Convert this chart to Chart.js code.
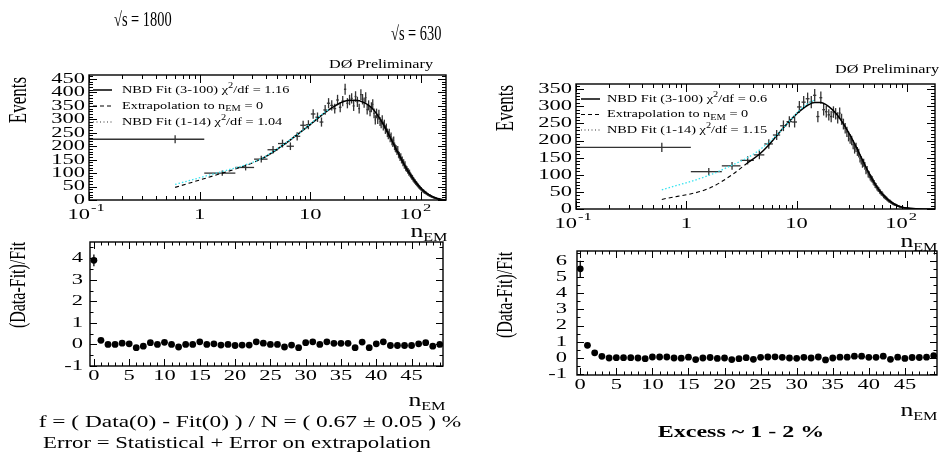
<!DOCTYPE html>
<html>
<head>
<meta charset="utf-8">
<script src="https://cdn.jsdelivr.net/npm/chart.js@4.4.0/dist/chart.umd.min.js"></script>
<style>
  body { margin: 0; background: #fff; }
  #page { position: relative; width: 941px; height: 454px; overflow: hidden; font-family: "Liberation Serif", "DejaVu Serif", serif; color: #000; }
  #page canvas { position: absolute; left: 0; top: 0; }
  .lbl { position: absolute; white-space: nowrap; line-height: 1; }
  .sub { font-size: 12px; position: relative; top: 4px; }
</style>
</head>
<body>
<div id="page">
  <canvas id="top1800" width="941" height="454"></canvas>
  <canvas id="top630" width="941" height="454"></canvas>
  <canvas id="ratio1800" width="941" height="454"></canvas>
  <canvas id="ratio630" width="941" height="454"></canvas>

  <div class="lbl" style="left:114px;top:9px;font-size:20px;transform:scaleX(0.72);transform-origin:0 0">√s = 1800</div>
  <div class="lbl" style="left:391px;top:23px;font-size:20px;transform:scaleX(0.72);transform-origin:0 0">√s = 630</div>

  <div class="lbl" style="right:508px;top:58px;font-size:12px;transform:scaleX(1.35);transform-origin:100% 0">DØ Preliminary</div>
  <div class="lbl" style="right:2px;top:63px;font-size:12px;transform:scaleX(1.35);transform-origin:100% 0">DØ Preliminary</div>

  <div class="lbl" style="left:18px;top:100px;font-size:17px;transform:translate(-50%,-50%) rotate(-90deg) scaleY(1.45)">Events</div>
  <div class="lbl" style="left:505px;top:108px;font-size:17px;transform:translate(-50%,-50%) rotate(-90deg) scaleY(1.45)">Events</div>
  <div class="lbl" style="left:18px;top:285px;font-size:16px;transform:translate(-50%,-50%) rotate(-90deg) scaleY(1.45)">(Data-Fit)/Fit</div>
  <div class="lbl" style="left:505px;top:295px;font-size:16px;transform:translate(-50%,-50%) rotate(-90deg) scaleY(1.45)">(Data-Fit)/Fit</div>

  <div class="lbl" style="right:494px;top:221px;font-size:19px;transform:scaleX(1.35);transform-origin:100% 0">n<span class="sub">EM</span></div>
  <div class="lbl" style="right:4px;top:231px;font-size:19px;transform:scaleX(1.35);transform-origin:100% 0">n<span class="sub">EM</span></div>
  <div class="lbl" style="right:496px;top:390px;font-size:19px;transform:scaleX(1.35);transform-origin:100% 0">n<span class="sub">EM</span></div>
  <div class="lbl" style="right:4px;top:400px;font-size:19px;transform:scaleX(1.35);transform-origin:100% 0">n<span class="sub">EM</span></div>

  <div class="lbl" style="left:250px;top:414px;font-size:16px;transform:translateX(-50%) scaleX(1.46)">f = ( Data(0) - Fit(0) ) / N = ( 0.67 ± 0.05 ) %</div>
  <div class="lbl" style="left:237px;top:435px;font-size:16px;transform:translateX(-50%) scaleX(1.42)">Error = Statistical + Error on extrapolation</div>
  <div class="lbl" style="left:741px;top:424px;font-size:16px;font-weight:bold;transform:translateX(-50%) scaleX(1.5)">Excess ~ 1 - 2 %</div>
</div>

<script>
// histogram bins are drawn at n + binOffset on the log axis
const binOffset = 0.6;

// ---- sqrt(s) = 1800 ----
const counts1800 = [
    226, 100, 121, 152, 187, 210, 200, 237, 278, 280,
    320, 308, 290, 335, 360, 352, 340, 372, 345, 368,
    412, 360, 372, 378, 350, 385, 365, 340, 392, 375,
    362, 381, 336, 352, 330, 345, 356, 322, 298, 322,
    300, 318, 292, 284, 298, 275, 282, 262, 268, 250,
    242, 249, 230, 236, 218, 212, 221, 200, 193, 190,
    181, 187, 170, 166, 158, 161, 148, 150, 137, 140,
    128, 133, 120, 117, 115, 109, 108, 100, 103, 95,
    92, 88, 85, 84, 78, 77, 72, 70, 68, 64,
    63, 60, 57, 55, 53, 50, 48, 46, 44, 42,
    42, 38, 37, 35, 34, 33, 30, 30, 28, 27,
    27, 25, 24, 22, 21, 21, 19, 18, 18, 16,
    17, 15, 14, 13, 13, 12, 11, 11, 10, 9,
    10, 8, 8, 7, 7, 6, 6, 5, 6, 5,
    5, 4, 4, 3, 4, 3, 3, 2, 3, 2,
    2, 2, 1, 2, 1, 1, 1, 1, 0, 1, 1
];
const fitN1800 = [3, 4, 5, 6, 7, 8, 10, 12, 15, 18, 21, 25, 30, 35, 40, 45, 50, 55, 60, 65, 70, 80, 90, 100, 110, 120, 130, 140, 150, 160, 167];
const fitVals1800 = [152, 178, 203, 224, 243, 260, 290, 315, 343, 361, 370, 371, 362, 344, 315, 281, 246, 213, 183, 156, 131, 92, 63, 42, 27, 17, 10, 5.5, 2.8, 1.3, 0.7];
const extrapN1800 = [0, 1, 2, 3];
const extrapVals1800 = [47, 100, 128, 152];
const lowFitN1800 = [0, 1, 2, 3, 4, 5, 6, 8, 10, 12, 14];
const lowFitVals1800 = [58, 106, 131, 153, 180, 204, 225, 261, 292, 317, 337];
const ratio1800 = [
    3.9, 0.19, 0.0, 0.0, 0.06, 0.03, -0.15, -0.08, 0.08, 0.0,
    0.1, 0.0, -0.12, 0.0, 0.0, 0.12, 0.0, 0.03, -0.03, 0.0,
    -0.05, -0.03, -0.03, 0.12, 0.06, 0.0, 0.0, -0.12, -0.03, -0.15,
    0.08, 0.12, 0.0, 0.12, 0.05, 0.05, 0.05, -0.15, 0.11, -0.15,
    0.03, 0.12, -0.05, -0.05, -0.05, -0.05, 0.03, 0.08, -0.08, 0.0
];
const ratioErr1800 = [0.27];

// ---- sqrt(s) = 630 ----
const counts630 = [
    180, 109, 126, 142, 158, 190, 216, 243, 255, 254,
    298, 312, 322, 312, 332, 270, 325, 290, 284, 275,
    270, 283, 278, 266, 280, 262, 248, 236, 225, 212,
    205, 200, 188, 175, 180, 168, 163, 148, 142, 132,
    135, 126, 112, 115, 102, 100, 93, 89, 86, 80,
    76, 70, 68, 62, 59, 57, 52, 50, 46, 45,
    42, 38, 36, 34, 32, 30, 28, 26, 24, 23,
    22, 20, 19, 17, 16, 15, 14, 13, 12, 12,
    11, 10, 9, 9, 8, 7, 7, 6, 6, 5,
    5, 5, 4, 4, 4, 3, 3, 3, 3, 2,
    3, 2, 2, 2, 2, 1, 1, 1, 1, 1,
    1, 1, 1, 0, 1, 0, 0, 1, 0, 0
];
const fitN630 = [3, 4, 5, 6, 7, 8, 10, 12, 14, 16, 18, 20, 22, 25, 28, 31, 35, 40, 45, 50, 55, 60, 65, 70, 80, 90, 100, 120, 150, 179];
const fitVals630 = [135, 160, 187, 214, 237, 256, 285, 303, 311, 311, 304, 293, 280, 257, 232, 207, 174, 136, 103, 77, 57, 42, 31, 22, 11, 5.5, 2.7, 0.7, 0.1, 0];
const extrapN630 = [0, 1, 2, 3];
const extrapVals630 = [28, 60, 100, 135];
const lowFitN630 = [0, 1, 2, 3, 4, 5, 6, 8, 10, 12, 14];
const lowFitVals630 = [56, 98, 128, 150, 172, 195, 216, 256, 288, 308, 318];
const ratio630 = [
    5.5, 0.78, 0.32, 0.1, 0.0, 0.02, 0.02, 0.02, 0.0, -0.04,
    0.06, 0.06, 0.06, 0.0, -0.01, 0.05, -0.1, 0.0, 0.03, -0.03,
    0.0, -0.1, -0.04, 0.02, -0.08, 0.04, 0.06, 0.07, 0.04, 0.0,
    -0.02, 0.04, 0.0, 0.06, -0.12, 0.0, 0.05, 0.05, 0.11, 0.11,
    0.04, 0.04, 0.11, -0.08, 0.05, -0.03, 0.03, 0.03, 0.05, 0.14
];
const ratioErr630 = [0.5];

// ---- axis ticks ----
const eventsTicks1800 = [0, 50, 100, 150, 200, 250, 300, 350, 400, 450];
const eventsTicks630 = [0, 50, 100, 150, 200, 250, 300, 350];
const logTicks = [0.1, 1, 10, 100];
const logTickLabels = [['10', '-1'], ['1', ''], ['10', ''], ['10', '2']];
const ratioXTicks = [0, 5, 10, 15, 20, 25, 30, 35, 40, 45];
const ratioYTicks1800 = [-1, 0, 1, 2, 3, 4];
const ratioYTicks630 = [-1, 0, 1, 2, 3, 4, 5, 6];

const FONT = '"Liberation Serif", "DejaVu Serif", serif';
const CYAN = '#35e3ef';

function stretchText(ctx, str, x, y, align, size, sx)
{
    ctx.save();
    ctx.font = size + 'px ' + FONT;
    ctx.translate(x, y);
    ctx.scale(sx, 1);
    ctx.textAlign = align;
    ctx.textBaseline = 'middle';
    ctx.fillText(str, 0, 0);
    ctx.restore();
}

function textWidth(ctx, str, size, sx)
{
    ctx.font = size + 'px ' + FONT;
    return ctx.measureText(str).width * sx;
}

function line(ctx, x1, y1, x2, y2)
{
    ctx.beginPath();
    ctx.moveTo(x1, y1);
    ctx.lineTo(x2, y2);
    ctx.stroke();
}

const hepPlugin = {
    id: 'hep',
    beforeDatasetsDraw(chart, args, o)
    {
        // error bars of the first dataset
        const {ctx, chartArea: a, scales: {x, y}} = chart;
        ctx.save();
        ctx.beginPath();
        ctx.rect(a.left, a.top, a.right - a.left, a.bottom - a.top);
        ctx.clip();
        ctx.strokeStyle = o.barColor;
        ctx.lineWidth = o.barWidth;
        chart.data.datasets[0].data.forEach(p =>
        {
            const px = x.getPixelForValue(p.x);
            const py = y.getPixelForValue(p.y);
            if (p.yerr)
            {
                line(ctx, px, y.getPixelForValue(p.y - p.yerr), px, y.getPixelForValue(p.y + p.yerr));
            }
            if (p.xlo !== undefined)
            {
                line(ctx, x.getPixelForValue(p.xlo), py, x.getPixelForValue(p.xhi), py);
            }
        });
        ctx.restore();
    },
    afterDraw(chart, args, o)
    {
        const {ctx, chartArea: a, scales: {x, y}} = chart;
        ctx.save();
        ctx.strokeStyle = '#000';
        ctx.fillStyle = '#000';
        ctx.lineWidth = 1;

        // inward ticks on all four sides
        const tickY = (v, len) =>
        {
            const py = Math.round(y.getPixelForValue(v)) + 0.5;
            line(ctx, a.left, py, a.left + len, py);
            line(ctx, a.right, py, a.right - len, py);
        };
        const tickX = (v, len) =>
        {
            const px = Math.round(x.getPixelForValue(v)) + 0.5;
            line(ctx, px, a.bottom, px, a.bottom - len);
            line(ctx, px, a.top, px, a.top + len);
        };
        o.yTicks.forEach(v => tickY(v, o.majorLen));
        for (let v = Math.ceil(y.min / o.yMinorStep) * o.yMinorStep; v <= y.max; v += o.yMinorStep)
        {
            tickY(v, o.minorLen);
        }
        o.xTicks.forEach(v => tickX(v, o.majorLen));
        if (o.logX)
        {
            o.xTicks.forEach(d =>
            {
                for (let k = 2; k <= 9; k++)
                {
                    if (k * d <= x.max) tickX(k * d, o.minorLen);
                }
            });
        }
        else
        {
            for (let v = Math.ceil(x.min); v <= x.max; v += 1) tickX(v, o.minorLen);
        }

        // frame
        ctx.lineWidth = 1.4;
        ctx.strokeRect(a.left, a.top, a.right - a.left, a.bottom - a.top);

        // y tick labels
        o.yTicks.forEach(v =>
        {
            stretchText(ctx, String(v), a.left - o.yLabelPad, y.getPixelForValue(v), 'right', o.labelSize, o.labelScale);
        });

        // x tick labels
        const ly = a.bottom + o.xLabelOffset;
        o.xTicks.forEach((v, i) =>
        {
            const px = x.getPixelForValue(v);
            if (o.logX)
            {
                const [base, exp] = logTickLabels[i];
                if (exp)
                {
                    stretchText(ctx, base, px + 1, ly, 'right', o.labelSize, o.labelScale);
                    stretchText(ctx, exp, px + 2, ly - 7, 'left', o.labelSize - 4, o.labelScale);
                }
                else
                {
                    stretchText(ctx, base, px, ly, 'center', o.labelSize, o.labelScale);
                }
            }
            else
            {
                stretchText(ctx, String(v), px, ly, 'center', o.labelSize, o.labelScale);
            }
        });

        // legend
        if (o.legend)
        {
            const L = o.legend;
            L.entries.forEach((e, i) =>
            {
                const ry = L.y + i * L.dy;
                ctx.save();
                ctx.strokeStyle = e.color;
                ctx.lineWidth = e.width;
                ctx.setLineDash(e.dash);
                line(ctx, L.x, ry, L.x + L.sample, ry);
                ctx.restore();
                let cx = L.textX;
                e.parts.forEach(([str, kind]) =>
                {
                    const size = kind === 'n' ? L.size : L.size - 3;
                    const dy = kind === 'sup' ? -4 : (kind === 'sub' ? 3 : 0);
                    stretchText(ctx, str, cx, ry + dy, 'left', size, L.scale);
                    cx += textWidth(ctx, str, size, L.scale);
                });
            });
        }
        ctx.restore();
    }
};

function histPoints(counts)
{
    return counts.map((c, n) => ({
        x: n + binOffset, y: c,
        xlo: n + binOffset - 0.5, xhi: n + binOffset + 0.5,
        yerr: Math.sqrt(c)
    }));
}

function curvePoints(ns, vals)
{
    return ns.map((n, i) => ({x: n + binOffset, y: vals[i]}));
}

function ratioPoints(ratios, errs)
{
    return ratios.map((r, n) => ({x: n, y: r, yerr: errs[n] || 0}));
}

function legendFor(fitChi, lowChi)
{
    return [
        {color: '#000', width: 1.5, dash: [], parts: [['NBD Fit (3-100) χ', 'n'], ['2', 'sup'], ['/df = ' + fitChi, 'n']]},
        {color: '#000', width: 1.2, dash: [4, 3], parts: [['Extrapolation to n', 'n'], ['EM', 'sub'], [' = 0', 'n']]},
        {color: '#333', width: 1.2, dash: [1, 2.5], parts: [['NBD Fit (1-14) χ', 'n'], ['2', 'sup'], ['/df = ' + lowChi, 'n']]}
    ];
}

function topChart(id, padding, xMax, yMax, counts, fitN, fitVals, exN, exVals, lowN, lowVals, yTicks, legend)
{
    new Chart(document.getElementById(id), {
        type: 'scatter',
        data: {
            datasets: [
                {data: histPoints(counts), pointRadius: 0, showLine: false},
                {data: curvePoints(lowN, lowVals), showLine: true, borderColor: CYAN, borderWidth: 1.3, borderDash: [1.5, 2], pointRadius: 0, cubicInterpolationMode: 'monotone'},
                {data: curvePoints(exN, exVals), showLine: true, borderColor: '#000', borderWidth: 1.1, borderDash: [4, 3], pointRadius: 0, cubicInterpolationMode: 'monotone'},
                {data: curvePoints(fitN, fitVals), showLine: true, borderColor: '#000', borderWidth: 1.5, pointRadius: 0, cubicInterpolationMode: 'monotone'}
            ]
        },
        options: {
            responsive: false,
            animation: false,
            layout: {padding: padding},
            scales: {
                x: {type: 'logarithmic', min: 0.1, max: xMax, display: false},
                y: {type: 'linear', min: 0, max: yMax, display: false}
            },
            plugins: {
                legend: {display: false},
                tooltip: {enabled: false},
                hep: {
                    barColor: '#333', barWidth: 1.3,
                    yTicks: yTicks, yMinorStep: 10, xTicks: logTicks, logX: true,
                    majorLen: 8, minorLen: 4,
                    labelSize: 15, labelScale: 1.5, yLabelPad: 4, xLabelOffset: 15,
                    legend: legend
                }
            }
        },
        plugins: [hepPlugin]
    });
}

function ratioChart(id, padding, xMin, xMax, yMin, yMax, ratios, errs, yTicks, yLabelPad)
{
    new Chart(document.getElementById(id), {
        type: 'scatter',
        data: {
            datasets: [
                {data: ratioPoints(ratios, errs), pointRadius: 3.4, backgroundColor: '#000', borderWidth: 0, showLine: false}
            ]
        },
        options: {
            responsive: false,
            animation: false,
            layout: {padding: padding},
            scales: {
                x: {type: 'linear', min: xMin, max: xMax, display: false},
                y: {type: 'linear', min: yMin, max: yMax, display: false}
            },
            plugins: {
                legend: {display: false},
                tooltip: {enabled: false},
                hep: {
                    barColor: '#000', barWidth: 1.3,
                    yTicks: yTicks, yMinorStep: 0.5, xTicks: ratioXTicks, logX: false,
                    majorLen: 7, minorLen: 3.5,
                    labelSize: 15, labelScale: 1.5, yLabelPad: yLabelPad, xLabelOffset: 10
                }
            }
        },
        plugins: [hepPlugin]
    });
}

topChart('top1800', {left: 89, top: 75, right: 495, bottom: 254}, 168, 465,
    counts1800, fitN1800, fitVals1800, extrapN1800, extrapVals1800, lowFitN1800, lowFitVals1800, eventsTicks1800,
    {x: 93, sample: 19, textX: 122, y: 90, dy: 16, size: 11, scale: 1.3, entries: legendFor('1.16', '1.04')});

topChart('top630', {left: 576, top: 84, right: 6, bottom: 245}, 180, 365,
    counts630, fitN630, fitVals630, extrapN630, extrapVals630, lowFitN630, lowFitVals630, eventsTicks630,
    {x: 581, sample: 19, textX: 607, y: 99, dy: 15.5, size: 11, scale: 1.3, entries: legendFor('0.6', '1.15')});

ratioChart('ratio1800', {left: 90, top: 242, right: 498, bottom: 88}, -0.55, 49.45, -1, 4.75,
    ratio1800, ratioErr1800, ratioYTicks1800, 7);

ratioChart('ratio630', {left: 577, top: 251, right: 4, bottom: 79}, -0.45, 49.45, -1.05, 6.6,
    ratio630, ratioErr630, ratioYTicks630, 10);
</script>
</body>
</html>
